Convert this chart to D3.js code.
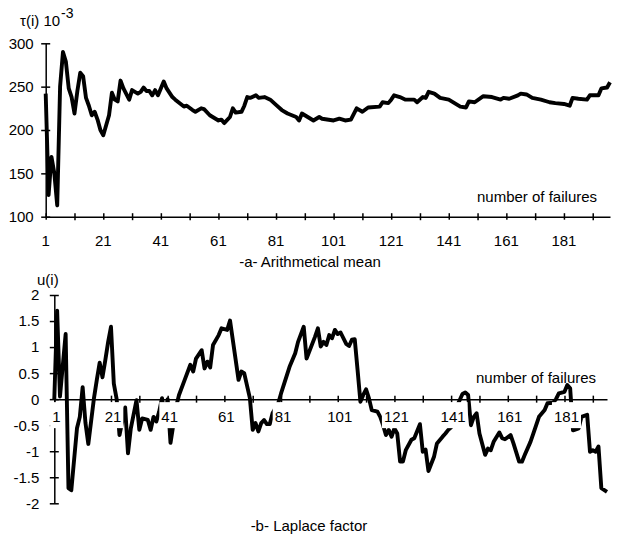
<!DOCTYPE html>
<html>
<head>
<meta charset="utf-8">
<script src="https://cdn.jsdelivr.net/npm/d3@7"></script>
<style>
  body { margin: 0; background: #fff; }
  svg { display: block; }
  text { font-family: "Liberation Sans", Arial, sans-serif; font-size: 15px; fill: #000; }
</style>
</head>
<body>
<svg id="chart" width="624" height="535"></svg>
<script>
// -a- arithmetical mean tau(i), in 10^3 units
var tauFailure = [1,2,3,4,5,6,7,8,9,10,11,12,13,14,15,16,17,18,19,20,21,23,24,25,26,27,28,30,31,33,34,35,36,37,38,39,40,42,43,45,46,49,50,52,53,55,56,58,60,61,62,63,65,66,67,69,70,71,72,74,75,77,79,81,83,85,88,89,90,92,94,96,97,101,103,105,107,109,111,113,117,118,120,121,122,124,126,129,130,132,133,134,136,138,141,143,145,147,148,150,153,156,159,160,162,165,166,168,170,173,176,178,181,183,184,186,189,190,193,194,196,197];
var tauMean = [242,125,169,150,113,250,290,279,248,238,219,245,266,262,237,228,217,221,212,200,194,217,243,235,233,257,248,235,246,242,244,249,245,245,240,246,240,256,248,238,235,227,228,223,221,225,224,217,213,211,212,208,215,225,220,221,228,238,237,240,237,238,235,229,223,219,215,211,219,215,211,215,213,211,213,211,212,225,221,226,227,232,231,235,240,238,235,235,232,238,237,244,242,237,235,231,227,226,233,232,239,238,235,237,236,240,242,241,237,235,232,231,230,228,237,236,235,240,240,248,249,255];

// -b- Laplace factor u(i)
var laplaceFailure = [1,2,3,5,6,7,9,10,11,12,13,15,16,17,18,19,20,21,22,23,24,26,27,28,30,31,32,34,35,36,37,38,39,40,41,42,44,45,47,49,50,51,53,54,55,56,57,59,60,62,63,66,67,68,70,71,72,73,74,75,76,77,78,80,81,84,86,87,89,90,93,94,95,96,97,98,99,100,101,102,104,105,106,107,108,109,110,111,112,113,115,116,117,118,119,120,121,122,123,124,125,127,128,130,131,132,133,135,136,138,139,140,141,143,145,146,147,148,149,150,151,153,154,155,156,158,159,160,162,163,165,166,167,169,170,172,174,175,177,178,179,181,182,183,184,186,187,189,190,191,192,193,194,196];
var laplaceU = [0,1.7,0.05,1.25,-1.71,-1.75,-0.56,-0.34,0.23,-0.46,-0.86,0.02,0.37,0.7,0.42,0.75,1.1,1.39,0.3,0,-0.69,-0.16,-1.04,-0.56,-0.02,-0.59,-0.37,-0.4,-0.59,-0.34,-0.43,-0.24,0.02,-0.34,0,-0.84,-0.14,0.08,0.37,0.66,0.53,0.78,0.94,0.59,0.72,0.61,1.04,1.23,1.36,1.33,1.51,0.37,0.53,0.5,0.02,-0.59,-0.46,-0.62,-0.46,-0.4,-0.48,-0.48,-0.27,-0.08,0.11,0.62,0.88,1.1,1.39,0.78,1.2,1.36,1.01,1.1,1.04,1.23,1.17,1.33,1.25,1.28,1.06,1.02,1.14,1.15,0.56,-0.05,0.08,0.19,0.02,-0.21,-0.24,-0.34,-0.5,-0.69,-0.59,-0.72,-0.56,-0.66,-1.2,-1.2,-0.98,-0.78,-0.75,-0.48,-1.01,-0.97,-1.38,-1.1,-0.85,-0.72,-0.66,-0.59,-0.54,-0.14,0.1,0.13,0.08,-0.5,-0.34,-0.27,-0.66,-1.07,-0.95,-0.98,-0.82,-0.64,-0.75,-0.77,-0.69,-0.85,-1.2,-1.2,-1.07,-0.82,-0.66,-0.34,-0.21,-0.08,-0.07,0,0.11,0.14,0.27,0.21,-0.6,-0.56,-0.34,-0.3,-1.01,-0.98,-1.01,-0.91,-1.71,-1.78];

var xTickValues = d3.range(1, 197, 10);     // tick marks every 10 failures
var xLabelValues = d3.range(1, 182, 20);    // labelled every 20
var tauTicks = [100, 150, 200, 250, 300];
var uTicks = [-2, -1.5, -1, -0.5, 0, 0.5, 1, 1.5, 2];

var svg = d3.select('#chart');
svg.append('rect').attr('width', 624).attr('height', 535).attr('fill', '#fff');

function drawPanel(cfg) {
  var x = d3.scaleLinear().domain(cfg.xDomain).range(cfg.xRange);
  var y = d3.scaleLinear().domain(cfg.yDomain).range(cfg.yRange);
  var axisY = y(cfg.xAxisAt);
  var g = svg.append('g');

  // y axis
  var ya = g.append('g')
    .attr('transform', 'translate(' + cfg.xRange[0] + ',0)')
    .call(d3.axisLeft(y).tickValues(cfg.yTicks).tickFormat('').tickSizeOuter(0).tickSizeInner(5));
  ya.selectAll('.tick line').attr('x1', -4.5).attr('x2', 4.5);

  // x axis
  var xa = g.append('g')
    .attr('transform', 'translate(0,' + axisY + ')')
    .call(d3.axisBottom(x).tickValues(xTickValues).tickFormat('').tickSizeOuter(0).tickSizeInner(4));
  xa.selectAll('.tick line').attr('y1', -3.5).attr('y2', 3.5);

  g.selectAll('.domain, .tick line').attr('stroke', '#000').attr('stroke-width', 1.5);

  // y labels
  g.selectAll('.ylab').data(cfg.yTicks).enter().append('text')
    .attr('x', cfg.xRange[0] - cfg.yLabGap)
    .attr('y', d => y(d))
    .attr('dy', '0.36em')
    .attr('text-anchor', 'end')
    .text(d => String(d));

  // series line
  var pts = cfg.xs.map((v, i) => [v, cfg.ys[i]]);
  g.append('path')
    .datum(pts)
    .attr('fill', 'none')
    .attr('stroke', '#000')
    .attr('stroke-width', 3.9)
    .attr('stroke-linejoin', 'round')
    .attr('d', d3.line().x(d => x(d[0])).y(d => y(d[1])));

  // x labels, boxed in white so they cut the line like the original
  var labs = g.selectAll('.xlab').data(xLabelValues).enter().append('g')
    .attr('transform', d => 'translate(' + (x(d) + cfg.xLabDx) + ',' + (axisY + cfg.xLabDy) + ')');
  labs.append('rect').attr('fill', '#fff');
  labs.append('text').attr('text-anchor', 'middle').attr('dy', '0.36em').text(d => d);
  labs.each(function () {
    var bb = d3.select(this).select('text').node().getBBox();
    d3.select(this).select('rect')
      .attr('x', bb.x - 2).attr('width', bb.width + 4)
      .attr('y', 3 - cfg.xLabDy).attr('height', 26);
  });

  g.append('text').attr('x', cfg.nofX).attr('y', cfg.nofY).text('number of failures');
  return g;
}

drawPanel({
  xDomain: [1, 197], xRange: [45.7, 610],
  yDomain: [100, 300], yRange: [216.7, 43.3],
  xAxisAt: 100, yTicks: tauTicks, yLabGap: 12,
  xLabDx: 0, xLabDy: 23.5,
  xs: tauFailure, ys: tauMean,
  nofX: 477, nofY: 202
});

drawPanel({
  xDomain: [1, 196], xRange: [54.3, 607],
  yDomain: [-2, 2], yRange: [503.3, 295],
  xAxisAt: 0, yTicks: uTicks, yLabGap: 15,
  xLabDx: 2, xLabDy: 17.5,
  xs: laplaceFailure, ys: laplaceU,
  nofX: 476, nofY: 383
});

// axis titles and captions
var t = svg.append('text').attr('x', 20).attr('y', 26).text('τ(i) 10');
t.append('tspan').attr('dx', 1).attr('dy', -8).style('font-size', '14px').text('-3');
svg.append('text').attr('x', 37).attr('y', 285).text('u(i)');
svg.append('text').attr('x', 310).attr('y', 267).attr('text-anchor', 'middle').text('-a- Arithmetical mean');
svg.append('text').attr('x', 309).attr('y', 531).attr('text-anchor', 'middle').text('-b- Laplace factor');
</script>
</body>
</html>
